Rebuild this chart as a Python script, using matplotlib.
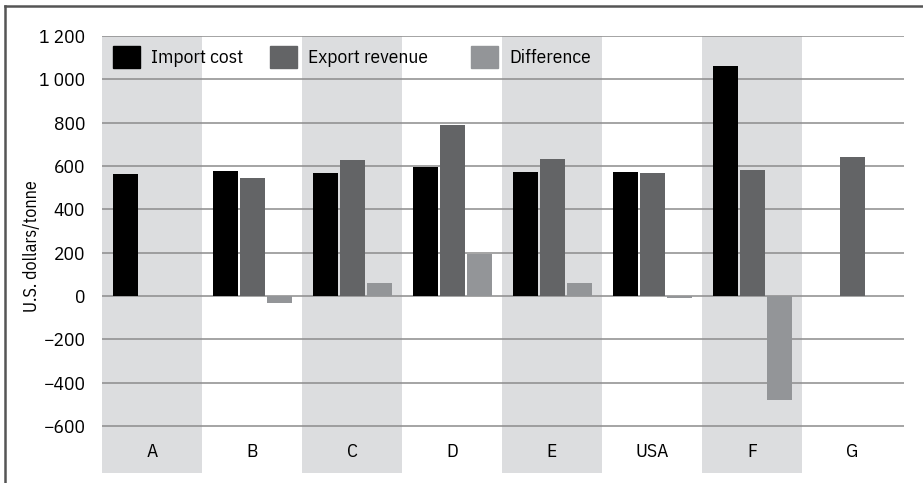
import matplotlib
matplotlib.use('Agg')
import matplotlib.pyplot as plt
from matplotlib.patches import Patch
from matplotlib.lines import Line2D
from matplotlib.legend import Legend
import numpy as np

plt.rcParams['font.family'] = ['IBM Plex Sans Condensed', 'Open Sans', 'DejaVu Sans']
plt.rcParams['font.stretch'] = 'condensed'

# Values (U.S. dollars/tonne)
categories = ['A', 'B', 'C', 'D', 'E', 'USA', 'F', 'G']
import_cost = [563, 577, 568, 597, 572, 572, 1061, np.nan]
export_revenue = [np.nan, 545, 628, 789, 632, 568, 582, 641]
difference = [np.nan, -31, 60, 194, 60, -8, -478, np.nan]
y_ticks = [-600, -400, -200, 0, 200, 400, 600, 800, 1000, 1200]
y_tick_labels = ['\u2212600', '\u2212400', '\u2212200', '0', '200', '400',
                 '600', '800', '1 000', '1 200']

series = [('Import cost', import_cost, '#000000'),
          ('Export revenue', export_revenue, '#636466'),
          ('Difference', difference, '#939598')]

W, H = 923, 483
fig = plt.figure(figsize=(W / 100, H / 100), dpi=100)
ax = fig.add_axes([102 / W, 10 / H, 802 / W, 437 / H])

x = np.arange(len(categories))
width = 0.25
offset = 0.27
fs = 14

# alternating background bands
for i in range(0, len(categories), 2):
    ax.axvspan(i - 0.5, i + 0.5, color='#dcdddf', zorder=0, lw=0)

for k, (name, vals, color) in enumerate(series):
    ax.bar(x + (k - 1) * offset, vals, width, color=color, zorder=3)

ax.set_xlim(-0.5, 7.52)
ax.set_ylim(-817, 1200)
ax.set_yticks(y_ticks)
ax.set_yticklabels(y_tick_labels, fontsize=fs)
ax.set_xticks([])
ax.tick_params(axis='y', length=0, pad=12)
ax.yaxis.grid(True, color='#8c8c8c', lw=1.1)
for gl in ax.get_ygridlines():
    gl.set_zorder(1)
for s in ax.spines.values():
    s.set_visible(False)

for i, c in enumerate(categories):
    ax.text(i, -720, c, ha='center', va='center', fontsize=fs)

ax.set_ylabel('U.S. dollars/tonne', fontsize=13)
ax.yaxis.set_label_coords(-0.076, 0.519)

# legend entries placed individually like the original
legend_x = [113, 270, 471]
for (name, vals, color), lx in zip(series, legend_x):
    leg = Legend(ax, [Patch(color=color)], [name],
                 loc='center left', frameon=False, fontsize=fs,
                 handlelength=1.4, handleheight=1.4, handletextpad=0.55,
                 borderpad=0, borderaxespad=0,
                 bbox_to_anchor=((lx - 102) / 802, (473 - 57) / 437))
    ax.add_artist(leg)

# outer frame on the left and top
fig.add_artist(Line2D([5 / W, 5 / W], [0, 1 - 6 / H], color='#555555', lw=1.8,
                      transform=fig.transFigure))
fig.add_artist(Line2D([5 / W, 1], [1 - 6 / H, 1 - 6 / H], color='#555555', lw=1.8,
                      transform=fig.transFigure))

fig.savefig('out.png', dpi=100)
